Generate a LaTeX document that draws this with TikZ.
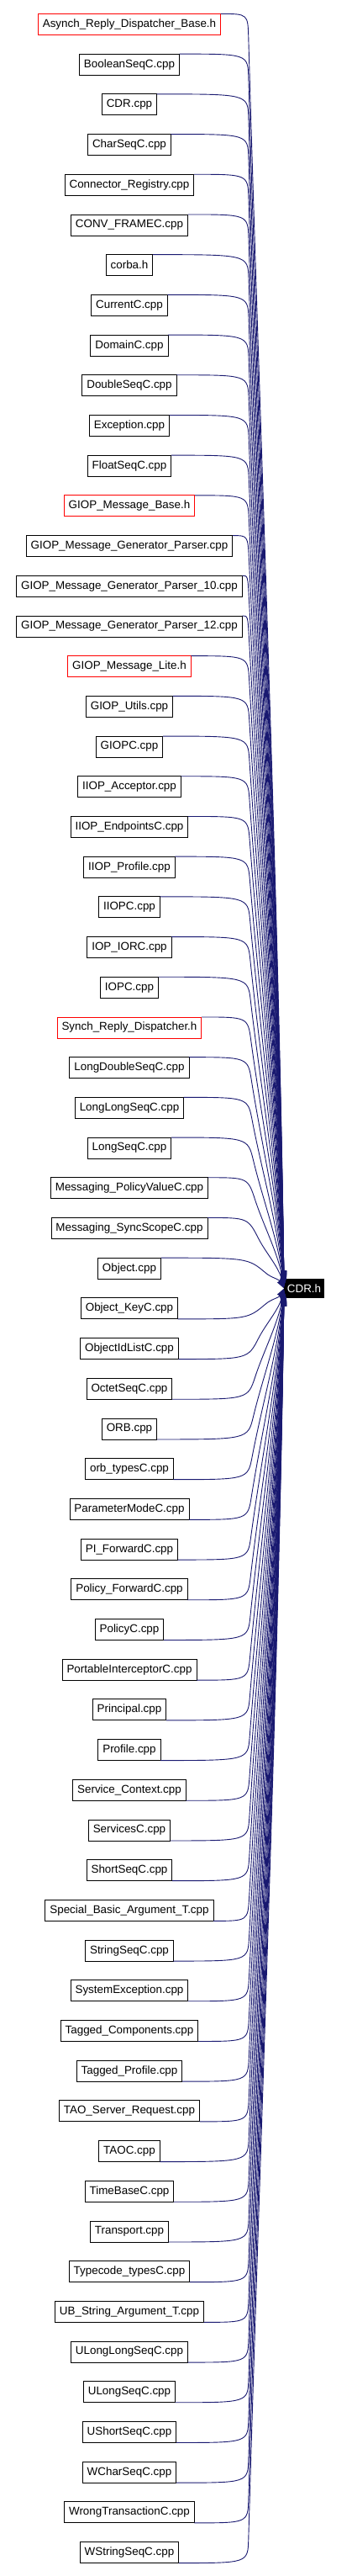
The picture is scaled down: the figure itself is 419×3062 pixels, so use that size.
\documentclass[tikz,border=0pt]{standalone}
\usepackage{fontspec}
\setmainfont{Liberation Sans}
\usetikzlibrary{matrix,calc,arrows.meta,positioning}

\definecolor{edgeblue}{RGB}{25,25,112}

\tikzset{
    file/.style={draw=black, line width=0.9pt, minimum height=25pt,
                 inner xsep=5.5pt, inner ysep=0pt, outer sep=0pt,
                 font=\fontsize{13.4}{16}\selectfont},
    target/.style={fill=black, text=white, minimum height=23pt,
                   inner xsep=4pt, inner ysep=0pt, outer sep=0pt,
                   font=\fontsize{13.4}{16}\selectfont},
    incl/.style={draw=edgeblue, line width=0.9pt,
                 -{Triangle[length=10pt,width=7pt]}}
}

\begin{document}
\begin{tikzpicture}[x=1pt, y=-1pt]
    \useasboundingbox (0,0) rectangle (419,3062);

    \matrix (m) [matrix of nodes, row sep=21.8pt, nodes={file}] at (154,1531.5)
    {
        |[draw=red]| Asynch\_Reply\_Dispatcher\_Base.h \\
        BooleanSeqC.cpp \\
        CDR.cpp \\
        CharSeqC.cpp \\
        Connector\_Registry.cpp \\
        CONV\_FRAMEC.cpp \\
        corba.h \\
        CurrentC.cpp \\
        DomainC.cpp \\
        DoubleSeqC.cpp \\
        Exception.cpp \\
        FloatSeqC.cpp \\
        |[draw=red]| GIOP\_Message\_Base.h \\
        GIOP\_Message\_Generator\_Parser.cpp \\
        GIOP\_Message\_Generator\_Parser\_10.cpp \\
        GIOP\_Message\_Generator\_Parser\_12.cpp \\
        |[draw=red]| GIOP\_Message\_Lite.h \\
        GIOP\_Utils.cpp \\
        GIOPC.cpp \\
        IIOP\_Acceptor.cpp \\
        IIOP\_EndpointsC.cpp \\
        IIOP\_Profile.cpp \\
        IIOPC.cpp \\
        IOP\_IORC.cpp \\
        IOPC.cpp \\
        |[draw=red]| Synch\_Reply\_Dispatcher.h \\
        LongDoubleSeqC.cpp \\
        LongLongSeqC.cpp \\
        LongSeqC.cpp \\
        Messaging\_PolicyValueC.cpp \\
        Messaging\_SyncScopeC.cpp \\
        Object.cpp \\
        Object\_KeyC.cpp \\
        ObjectIdListC.cpp \\
        OctetSeqC.cpp \\
        ORB.cpp \\
        orb\_typesC.cpp \\
        ParameterModeC.cpp \\
        PI\_ForwardC.cpp \\
        Policy\_ForwardC.cpp \\
        PolicyC.cpp \\
        PortableInterceptorC.cpp \\
        Principal.cpp \\
        Profile.cpp \\
        Service\_Context.cpp \\
        ServicesC.cpp \\
        ShortSeqC.cpp \\
        Special\_Basic\_Argument\_T.cpp \\
        StringSeqC.cpp \\
        SystemException.cpp \\
        Tagged\_Components.cpp \\
        Tagged\_Profile.cpp \\
        TAO\_Server\_Request.cpp \\
        TAOC.cpp \\
        TimeBaseC.cpp \\
        Transport.cpp \\
        Typecode\_typesC.cpp \\
        UB\_String\_Argument\_T.cpp \\
        ULongLongSeqC.cpp \\
        ULongSeqC.cpp \\
        UShortSeqC.cpp \\
        WCharSeqC.cpp \\
        WrongTransactionC.cpp \\
        WStringSeqC.cpp \\
    };

    \node[target] (cdr) at (362,1531.5) {CDR.h};
    \coordinate (knee) at (295,0);

    % Include arrows
    \foreach \i in {1,...,64} {
        \ifnum\i<33 \def\side{north east}\else\def\side{south east}\fi
        \coordinate (e) at ($(cdr.north west)!{(\i-0.5)/64}!(cdr.south west)$);
        \coordinate (c) at (m-\i-1.\side -| knee);
        \coordinate (k) at ($(c)!28pt!(e)$);
        \draw[incl] (m-\i-1.\side) .. controls (c) .. (k)
            .. controls ($(k)!0.3!(e)$) and ($(e)!0.3!(e |- c)+(-6,0)$) .. (e);
    }
\end{tikzpicture}
\end{document}
